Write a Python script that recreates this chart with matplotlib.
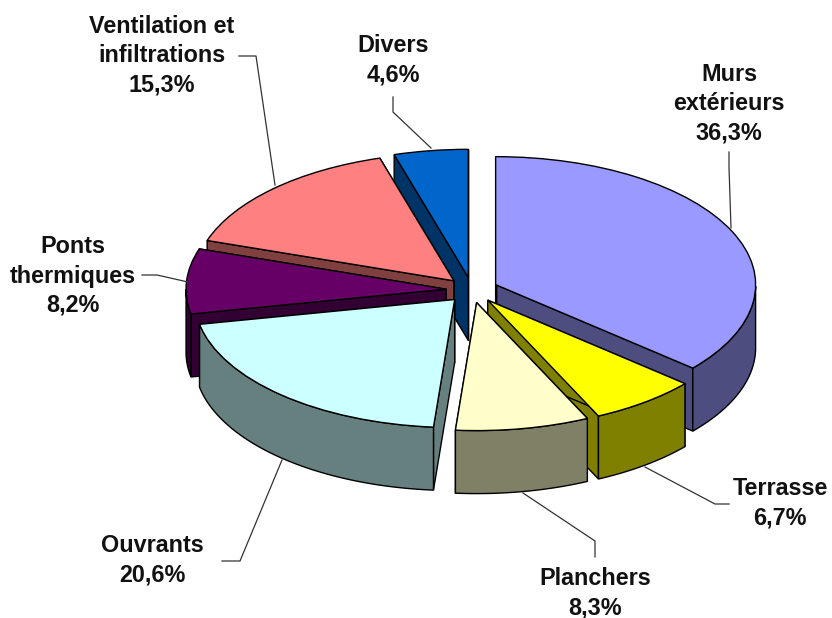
import numpy as np
import matplotlib
matplotlib.use("Agg")
import matplotlib.pyplot as plt
from matplotlib.colors import to_rgb
from matplotlib.patches import Polygon

OUTPUT = "out.png"

# clockwise from 12 o'clock
noms = ["Murs\nextérieurs", "Terrasse", "Planchers", "Ouvrants",
        "Ponts\nthermiques", "Ventilation et\ninfiltrations", "Divers"]
valeurs = [36.3, 6.7, 8.3, 20.6, 8.2, 15.3, 4.6]
etiquettes = ["36,3%", "6,7%", "8,3%", "20,6%", "8,2%", "15,3%", "4,6%"]
couleurs = ["#9999FF", "#FFFF00", "#FFFFCC", "#CCFFFF", "#660066", "#FF8080", "#0066CC"]

# layout, in picture pixels
W, H = 832, 618
CX, CY = 472, 290
RX, RY = 260, 128
DEPTH = 63
EXPLODE = 0.1
FONT = 16.8
label_xy = [(729, 104), (780, 503), (595, 593), (152, 560), (73, 276), (162, 56), (393, 60)]
leaders = [
    [(729, 152), (729, 167), (731, 228)],
    [(729, 504), (715, 504), (645, 467)],
    [(595, 557), (595, 541), (523, 493)],
    [(222, 561), (240, 561), (282, 460)],
    [(142, 275), (157, 275), (188, 282)],
    [(239, 56), (256, 56), (275, 185)],
    [(393, 97), (393, 112), (431, 148)],
]

plt.rcParams["font.family"] = ["Liberation Sans", "DejaVu Sans"]

fig = plt.figure(figsize=(W / 100, H / 100), dpi=100)
ax = fig.add_axes([0, 0, 1, 1])
wedges, _ = ax.pie(valeurs, explode=[EXPLODE] * len(valeurs), colors=couleurs,
                   startangle=90, counterclock=False, radius=1,
                   wedgeprops=dict(edgecolor="black", linewidth=1, joinstyle="miter"))

# squash the pie into an ellipse: 1 data unit = RX px across, RY px down
ax.set_aspect("auto")
ax.set_xlim(-CX / RX, (W - CX) / RX)
ax.set_ylim((CY - H) / RY, CY / RY)
ax.axis("off")
d = DEPTH / RY


def side(points, color, z):
    pts = np.array(points)
    low = pts[::-1] - [0, d]
    ax.add_patch(Polygon(np.vstack([pts, low]), closed=True, facecolor=color,
                         edgecolor="black", linewidth=1, joinstyle="miter", zorder=z))


# back to front, sides first and the top last
order = sorted(range(len(wedges)), key=lambda i: -wedges[i].center[1])
for rank, i in enumerate(order):
    w = wedges[i]
    cx, cy = w.center
    dark = tuple(c * 0.5 for c in to_rgb(couleurs[i]))
    z = 3 + rank * 3
    for ang in (w.theta1, w.theta2):
        a = np.radians(ang)
        side([(cx, cy), (cx + np.cos(a), cy + np.sin(a))], dark, z)
    # only the front half of the rim can be seen
    t = np.radians(np.linspace(w.theta1, w.theta2, 200))
    t = t[np.sin(t) <= 0.0]
    if len(t) > 1:
        side(np.column_stack([cx + np.cos(t), cy + np.sin(t)]), dark, z + 1)
    w.set_zorder(z + 2)

# labels and leader lines on a pixel overlay
ov = fig.add_axes([0, 0, 1, 1], facecolor="none")
ov.set_xlim(0, W)
ov.set_ylim(H, 0)
ov.axis("off")
for nom, pct, (x, y), line in zip(noms, etiquettes, label_xy, leaders):
    ov.text(x, y, nom + "\n" + pct, ha="center", va="center", ma="center",
            fontsize=FONT, fontweight="bold", color="#111111", linespacing=1.36)
    xs, ys = zip(*line)
    ov.plot(xs, ys, color="#333333", linewidth=0.9)

fig.savefig(OUTPUT, dpi=100)
